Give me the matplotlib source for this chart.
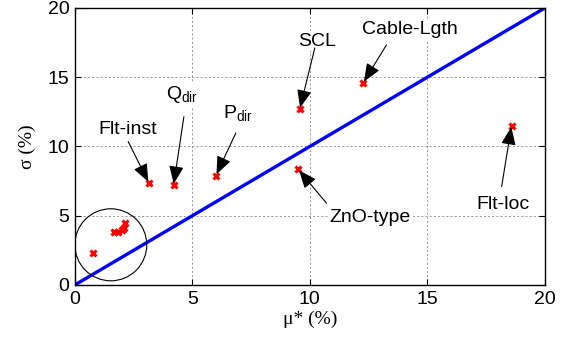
import matplotlib
matplotlib.use("Agg")
import matplotlib.pyplot as plt
from matplotlib.patches import Ellipse

plt.rcParams['font.family'] = ['Liberation Sans', 'DejaVu Sans']
plt.rcParams['font.serif'] = ['Liberation Serif', 'DejaVu Serif']
plt.rcParams['mathtext.fontset'] = 'custom'
plt.rcParams['mathtext.rm'] = 'Liberation Sans'
plt.rcParams['mathtext.it'] = 'Liberation Sans'

# Morris screening results: mean of absolute elementary effects vs. std
labels = ["Flt-inst", "Q$_{\\mathrm{dir}}$", "P$_{\\mathrm{dir}}$", "SCL",
          "Cable-Lgth", "ZnO-type", "Flt-loc"]
mu_named = [3.15, 4.2, 6.0, 9.57, 12.27, 9.5, 18.58]
sigma_named = [7.36, 7.2, 7.9, 12.7, 14.6, 8.35, 11.5]

# less influential factors, grouped inside the circle
mu_minor = [0.78, 1.65, 1.85, 2.0, 2.1, 2.15]
sigma_minor = [2.3, 3.8, 3.85, 3.95, 4.1, 4.5]

# label placement and arrow tails (data units)
text_xy = [(2.23, 11.24), (4.55, 13.72), (6.94, 12.42), (10.29, 17.57),
           (14.26, 18.41), (12.55, 4.84), (18.23, 5.78)]
tail_xy = [(2.27, 10.35), (4.64, 12.15), (6.85, 10.97), (10.21, 17.11),
           (13.26, 17.33), (10.71, 5.9), (18.16, 7.1)]

ticks = [0, 5, 10, 15, 20]

fig = plt.figure(figsize=(5.67, 3.45), dpi=100)
ax = fig.add_axes([0.132, 0.174, 0.829, 0.803])

ax.plot([0, 20], [0, 20], color='#0000ff', lw=2.4, zorder=2)
ax.plot(mu_named + mu_minor, sigma_named + sigma_minor, linestyle='none',
        marker='x', color='red', ms=5, mew=2.2, zorder=3)

ax.add_patch(Ellipse((1.53, 2.9), 3.06, 5.2, fill=False, ec='black', lw=0.8, zorder=2))

for lab, (px, py), (tx, ty), (ax_, ay) in zip(labels, zip(mu_named, sigma_named), text_xy, tail_xy):
    ax.text(tx, ty, lab, ha='center', va='center', fontsize=14, zorder=4,
            bbox=dict(facecolor='white', edgecolor='none', pad=1.0))
    ax.annotate('', xy=(px, py), xytext=(ax_, ay), zorder=5,
                arrowprops=dict(arrowstyle='-|>,head_length=1.1,head_width=0.45',
                                color='black', lw=0.8, shrinkA=0, shrinkB=1))

ax.set_xlim(0, 20)
ax.set_ylim(0, 20)
ax.set_xticks(ticks)
ax.set_yticks(ticks)
ax.tick_params(direction='in', top=True, right=True, labelsize=14, length=4, pad=4)
ax.grid(True, linestyle=(0, (3, 3)), color='0.45', lw=0.5, zorder=0)
ax.set_axisbelow(True)
for s in ax.spines.values():
    s.set_linewidth(1.0)

ax.set_xlabel('μ* (%)', family='serif', fontsize=14, labelpad=2)
ax.set_ylabel('σ (%)', family='serif', fontsize=14, labelpad=8)

fig.savefig('out.png', dpi=100)
